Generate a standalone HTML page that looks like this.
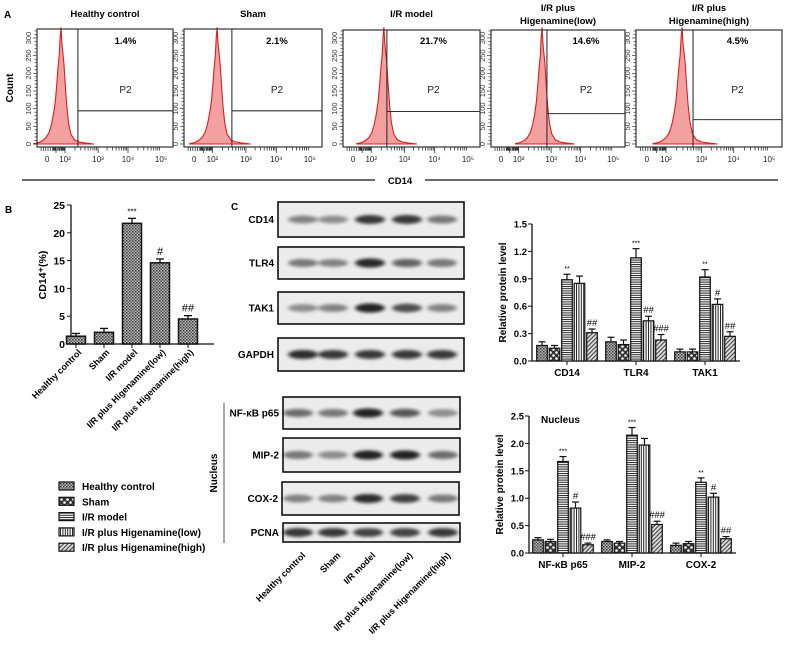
<!DOCTYPE html>
<html><head><meta charset="utf-8"><style>
html,body{margin:0;padding:0;background:#fff;}
svg{display:block;font-family:"Liberation Sans",Arial,sans-serif;}
</style></head><body>
<svg id="fig" width="786" height="652" viewBox="0 0 786 652" xmlns="http://www.w3.org/2000/svg">
<defs>
<pattern id="pHC" width="3" height="3" patternUnits="userSpaceOnUse"><rect width="3" height="3" fill="#b8b8b8"/><rect width="1.5" height="1.5" fill="#3a3a3a"/><rect x="1.5" y="1.5" width="1.5" height="1.5" fill="#5a5a5a"/></pattern>
<pattern id="pSham" width="6" height="6" patternUnits="userSpaceOnUse"><rect width="6" height="6" fill="#333"/><circle cx="1.5" cy="1.5" r="1.3" fill="#fff"/><circle cx="4.5" cy="4.5" r="1.3" fill="#fff"/></pattern>
<pattern id="pIR" width="4" height="2.2" patternUnits="userSpaceOnUse"><rect width="4" height="2.2" fill="#fff"/><rect width="4" height="1" fill="#222"/></pattern>
<pattern id="pLow" width="2.4" height="4" patternUnits="userSpaceOnUse"><rect width="2.4" height="4" fill="#fff"/><rect width="1" height="4" fill="#222"/></pattern>
<pattern id="pHigh" width="3" height="3" patternUnits="userSpaceOnUse" patternTransform="rotate(45)"><rect width="3" height="3" fill="#ddd"/><rect width="1.1" height="3" fill="#444"/></pattern>
<filter id="blur" x="-30%" y="-80%" width="160%" height="260%"><feGaussianBlur stdDeviation="2.2 1.6"/></filter>
</defs>
<g id="panelA"></g>
<g id="panelB"></g>
<g id="panelC"></g>
<g id="chartTop"></g>
<g id="chartBot"></g>
</svg>
<script>
// ---------- DATA ----------
const groups = ["Healthy control","Sham","I/R model","I/R plus Higenamine(low)","I/R plus Higenamine(high)"];
const flowTitles = [["Healthy control"],["Sham"],["I/R model"],["I/R plus","Higenamine(low)"],["I/R plus","Higenamine(high)"]];
const flowPct = ["1.4%","2.1%","21.7%","14.6%","4.5%"];
const flowPeakU = [1.55, 2.14, 2.38, 2.72, 2.45];
const flowGateU = [2.39, 2.58, 2.47, 2.87, 2.76];
const flowGateCount = [94, 94, 92, 86, 69];
const histOffsets = [-0.9,-0.75,-0.62,-0.5,-0.4,-0.32,-0.25,-0.19,-0.14,-0.1,-0.06,-0.03,0,0.03,0.06,0.1,0.14,0.19,0.25,0.33,0.45,0.6,0.8,1.1];
const histCounts = [1,4,9,18,32,55,85,120,170,215,250,300,330,285,260,225,170,110,60,28,12,6,3,0];
const flowXTickU = [0,2,3,4,5];
const flowXTickLabels = ["0","10²","10³","10⁴","10⁵"];
const flowYTicks = [0,50,100,150,200,250,300];

const bValues = [1.4, 2.1, 21.7, 14.6, 4.5];
const bErrors = [0.5, 0.7, 0.9, 0.7, 0.6];
const bSig = ["","","***","#","##"];
const bTicks = [0,5,10,15,20,25];

const topCats = ["CD14","TLR4","TAK1"];
const topVals = [[0.17,0.14,0.89,0.85,0.31],[0.21,0.18,1.13,0.44,0.23],[0.10,0.10,0.92,0.62,0.27]];
const topErrs = [[0.04,0.03,0.06,0.08,0.04],[0.05,0.05,0.10,0.05,0.06],[0.03,0.03,0.08,0.06,0.05]];
const topSig = [["","","**","","##"],["","","***","##","###"],["","","**","#","##"]];
const topTicks = [0,0.3,0.6,0.9,1.2,1.5];
const topTickLabels = ["0.0","0.3","0.6","0.9","1.2","1.5"];

const botCats = ["NF-κB p65","MIP-2","COX-2"];
const botVals = [[0.24,0.21,1.67,0.82,0.15],[0.21,0.18,2.15,1.97,0.52],[0.14,0.17,1.29,1.02,0.26]];
const botErrs = [[0.04,0.04,0.09,0.11,0.03],[0.03,0.03,0.14,0.12,0.06],[0.04,0.04,0.08,0.07,0.04]];
const botSig = [["","","***","#","###"],["","","***","","###"],["","","**","#","##"]];
const botTicks = [0,0.5,1.0,1.5,2.0,2.5];
const botTickLabels = ["0.0","0.5","1.0","1.5","2.0","2.5"];

const blotNames = ["CD14","TLR4","TAK1","GAPDH","NF-κB p65","MIP-2","COX-2","PCNA"];
const blotIntensity = [[0.5,0.45,0.85,0.85,0.55],[0.55,0.5,0.92,0.65,0.55],[0.45,0.5,0.95,0.75,0.5],[0.9,0.85,0.85,0.85,0.85],[0.6,0.55,0.95,0.7,0.45],[0.55,0.45,0.95,0.95,0.6],[0.5,0.5,0.9,0.8,0.55],[0.85,0.85,0.8,0.8,0.85]];

// ---------- LAYOUT ----------
const NS="http://www.w3.org/2000/svg";
function mk(tag, attrs, parent){const e=document.createElementNS(NS,tag);for(const k in attrs)e.setAttribute(k,attrs[k]);parent.appendChild(e);return e;}
function txt(parent, x, y, s, size, weight, anchor, extra){const t=mk("text",Object.assign({x:x,y:y,"font-size":size,"font-weight":weight||"bold","text-anchor":anchor||"start",fill:"#000"},extra||{}),parent);t.textContent=s;return t;}
const patterns=["url(#pHC)","url(#pSham)","url(#pIR)","url(#pLow)","url(#pHigh)"];

// ---------- PANEL A ----------
const A=document.getElementById("panelA");
let el;
el=txt(A,4,18,"A",10);


el=txt(A,0,0,"Count",10,"bold","middle",{transform:"translate(13,88) rotate(-90)"});


const boxes=[[37,29,136,118],[184,29,138,118],[343,30,137,117],[491,30,134,117],[636,30,146,117]];
const tickFrac=[0.074,0.206,0.449,0.669,0.912];
boxes.forEach((b,i)=>{
  const g=mk("g",{},A);
  
  
  const [bx,by,bw,bh]=b;
  const xs=u=>{for(let k=0;k<flowXTickU.length-1;k++){if(u<=flowXTickU[k+1]||k==flowXTickU.length-2){const f=(u-flowXTickU[k])/(flowXTickU[k+1]-flowXTickU[k]);return bx+bw*(tickFrac[k]+f*(tickFrac[k+1]-tickFrac[k]));}}};
  const ys=c=>by+bh-3-c*(106/300);
  flowTitles[i].forEach((t,j)=>{
    el=txt(g,bx+bw/2,flowTitles[i].length==1?17:11+j*13,t,9.5,"bold","middle");
    
    
  });
  const peakX=xs(flowPeakU[i]);
  const sc=bw*0.22;
  let d="M"+(peakX+histOffsets[0]*sc)+","+ys(0);
  histOffsets.forEach((o,k)=>{d+=" L"+(peakX+o*sc).toFixed(1)+","+ys(histCounts[k]).toFixed(1);});
  d+=" L"+(peakX+histOffsets[histOffsets.length-1]*sc)+","+ys(0)+"Z";
  el=mk("path",{d:d,fill:"#f2a0a0",stroke:"#e21b1b","stroke-width":"1.1"},g);
  
  
  el=mk("line",{x1:peakX,y1:by,x2:peakX,y2:ys(histCounts[12]),stroke:"#e21b1b","stroke-width":"1"},g);
  
  
  el=mk("rect",{x:bx,y:by,width:bw,height:bh,fill:"none",stroke:"#333","stroke-width":"1.2"},g);
  
  
  const gx=xs(flowGateU[i]);
  el=mk("path",{d:`M${gx},${by} V${by+bh} M${gx},${ys(flowGateCount[i])} H${bx+bw}`,stroke:"#333","stroke-width":"1.1",fill:"none"},g);
  
  
  el=txt(g,(gx+bx+bw)/2,44,flowPct[i],9.5,"bold","middle");
  
  
  el=txt(g,(gx+bx+bw)/2,93,"P2",10,"normal","middle",{fill:"#222"});
  
  
  for(let dd=0;dd<5;dd++){
    for(let m=1;m<10;m++){
      const u=dd+Math.log10(m);
      if(dd==0&&m<5) continue;
      const x=xs(u);const big=m==1;
      mk("line",{x1:x,y1:by+bh,x2:x,y2:by+bh+(big?6:3.5),stroke:"#333","stroke-width":"0.8"},g);
    }
  }
  for(let m=0;m<10;m++){const x=bx+bw*0.03+m*bw*0.017;mk("line",{x1:x,y1:by+bh,x2:x,y2:by+bh+4,stroke:"#333","stroke-width":"0.8"},g);}
  flowXTickU.forEach((u,k)=>{
    el=txt(g,xs(u),162,flowXTickLabels[k],8,"normal","middle",{fill:"#222"});
    
    
  });
  for(let c=0;c<=320;c+=10){mk("line",{x1:bx-(c%50==0?4:2.5),y1:ys(c),x2:bx,y2:ys(c),stroke:"#333","stroke-width":"0.7"},g);}
  flowYTicks.forEach(c=>{
    el=txt(g,0,0,String(c),7.5,"normal","middle",{fill:"#333",transform:`translate(${bx-6},${ys(c)}) rotate(-90)`});
    
    
  });
});
el=mk("path",{d:"M22,180 H375 M425,180 H778",stroke:"#111","stroke-width":"1.2"},A);


el=txt(A,400,184,"CD14",9.5,"bold","middle");



// ---------- PANEL B ----------
const B=document.getElementById("panelB");
el=txt(B,5,213,"B",10);


const bY=v=>344-v*(139/25);
const bX=i=>76+i*28;
el=mk("path",{d:"M71,205 V344 H214",stroke:"#111","stroke-width":"1.3",fill:"none"},B);


bTicks.forEach(t=>{
  mk("line",{x1:67,y1:bY(t),x2:71,y2:bY(t),stroke:"#111","stroke-width":"1"},B);
  el=txt(B,65,bY(t)+4,String(t),10.5,"bold","end");
  
  
});
el=txt(B,0,0,"CD14⁺(%)",10.5,"bold","middle",{transform:"translate(46,275) rotate(-90)"});


bValues.forEach((v,i)=>{
  const cx=bX(i);
  mk("line",{x1:cx,y1:bY(v),x2:cx,y2:bY(v+bErrors[i]),stroke:"#111","stroke-width":"1.3"},B);
  mk("line",{x1:cx-4,y1:bY(v+bErrors[i]),x2:cx+4,y2:bY(v+bErrors[i]),stroke:"#111","stroke-width":"1.3"},B);
  el=mk("rect",{x:cx-9.5,y:bY(v),width:19,height:bY(0)-bY(v),fill:"url(#pHC)",stroke:"#111","stroke-width":"1.5"},B);
  
  
  if(bSig[i]){el=txt(B,cx,bY(v+bErrors[i])-4,bSig[i],bSig[i][0]=="*"?8:11,"normal","middle");
  
  }
  mk("line",{x1:cx,y1:344,x2:cx,y2:348,stroke:"#111","stroke-width":"1"},B);
  el=txt(B,0,0,groups[i],9,"bold","end",{transform:`translate(${cx+6},353) rotate(-45)`});
  
  
});
const lg=mk("g",{},B);


groups.forEach((gname,i)=>{
  const y=486+i*15.3;
  el=mk("rect",{x:59,y:y-4,width:15,height:8,fill:patterns[i],stroke:"#111","stroke-width":"1.2"},lg);
  
  
  el=txt(lg,82,y+4,gname,10,"bold","start");
  
  
});

// ---------- PANEL C BLOTS ----------
const C=document.getElementById("panelC");
el=txt(C,231,210,"C",10);


const blotBoxes=[[278,202,186,35],[278,247,186,32],[278,292,186,32],[278,338,186,33],[283,397,177,32],[283,438,177,34],[282,482,177,33],[283,523,177,19]];
const lanesTop=[303,333,370,407,442];
const lanesBot=[298,333,368,405,443];
blotNames.forEach((n,i)=>{
  const [x,y,w,h]=blotBoxes[i];
  const g=mk("g",{},C);
  
  
  mk("rect",{x:x,y:y,width:w,height:h,fill:"#ececec",stroke:"#111","stroke-width":"1.6"},g);
  const lanes=i<4?lanesTop:lanesBot;
  blotIntensity[i].forEach((v,k)=>{
    el=mk("ellipse",{cx:lanes[k],cy:y+h/2,rx:15,ry:3.2+v*1.5,fill:"#000","fill-opacity":v*0.9,filter:"url(#blur)"},g);
    
    
  });
  el=txt(g,x-4,y+h/2+3.5,n,10,"bold","end");
  
  
});
el=mk("line",{x1:224,y1:403,x2:224,y2:543,stroke:"#555","stroke-width":"1"},C);


el=txt(C,0,0,"Nucleus",10,"bold","middle",{transform:"translate(217,473) rotate(-90)"});


groups.forEach((gname,i)=>{
  el=txt(C,0,0,gname,9,"bold","end",{transform:`translate(${lanesBot[i]+8},556) rotate(-45)`});
  
  
});

// ---------- PANEL C BAR CHARTS ----------
function barChart(gid, cats, vals, errs, sig, ticks, tickLabels, maxV, y0, yTop, axisX, axisEnd, firstC, titleExtra){
  const G=document.getElementById(gid);
  const yS=v=>y0-v*((y0-yTop)/maxV);
  const cX=i=>firstC+i*69;
  let e=mk("path",{d:`M${axisX},${yTop} V${y0} H${axisEnd}`,stroke:"#111","stroke-width":"1.3",fill:"none"},G);
  
  
  ticks.forEach((t,k)=>{
    mk("line",{x1:axisX-4,y1:yS(t),x2:axisX,y2:yS(t),stroke:"#111","stroke-width":"1"},G);
    e=txt(G,axisX-5,yS(t)+3.5,tickLabels[k],9.5,"bold","end");
    
    
  });
  e=txt(G,0,0,"Relative protein level",10,"bold","middle",{transform:`translate(${axisX-26},${(y0+yTop)/2}) rotate(-90)`});
  
  
  cats.forEach((c,ci)=>{
    const cx=cX(ci);
    vals[ci].forEach((v,k)=>{
      const bx=cx+(k-2)*12.5;
      const top=yS(v+errs[ci][k]);
      mk("line",{x1:bx,y1:yS(v),x2:bx,y2:top,stroke:"#111","stroke-width":"1.2"},G);
      mk("line",{x1:bx-3.5,y1:top,x2:bx+3.5,y2:top,stroke:"#111","stroke-width":"1.2"},G);
      e=mk("rect",{x:bx-5.3,y:yS(v),width:10.6,height:y0-yS(v),fill:patterns[k],stroke:"#111","stroke-width":"1.2"},G);
      
      
      if(sig[ci][k]){
        e=txt(G,bx,top-3,sig[ci][k],sig[ci][k][0]=="*"?7:9.5,"normal","middle");
        
        
      }
    });
    mk("line",{x1:cx,y1:y0,x2:cx,y2:y0+4,stroke:"#111","stroke-width":"1"},G);
    e=txt(G,cx,y0+15,c,10,"bold","middle");
    
    
  });
  if(titleExtra){e=txt(G,axisX+12,yTop+7,titleExtra,10,"bold","start");
    
    }
}
barChart("chartTop",topCats,topVals,topErrs,topSig,topTicks,topTickLabels,1.5,361,224,532,740,567,null);
barChart("chartBot",botCats,botVals,botErrs,botSig,botTicks,botTickLabels,2.5,553,416,529,736,563,"Nucleus");
</script>
</body></html>
